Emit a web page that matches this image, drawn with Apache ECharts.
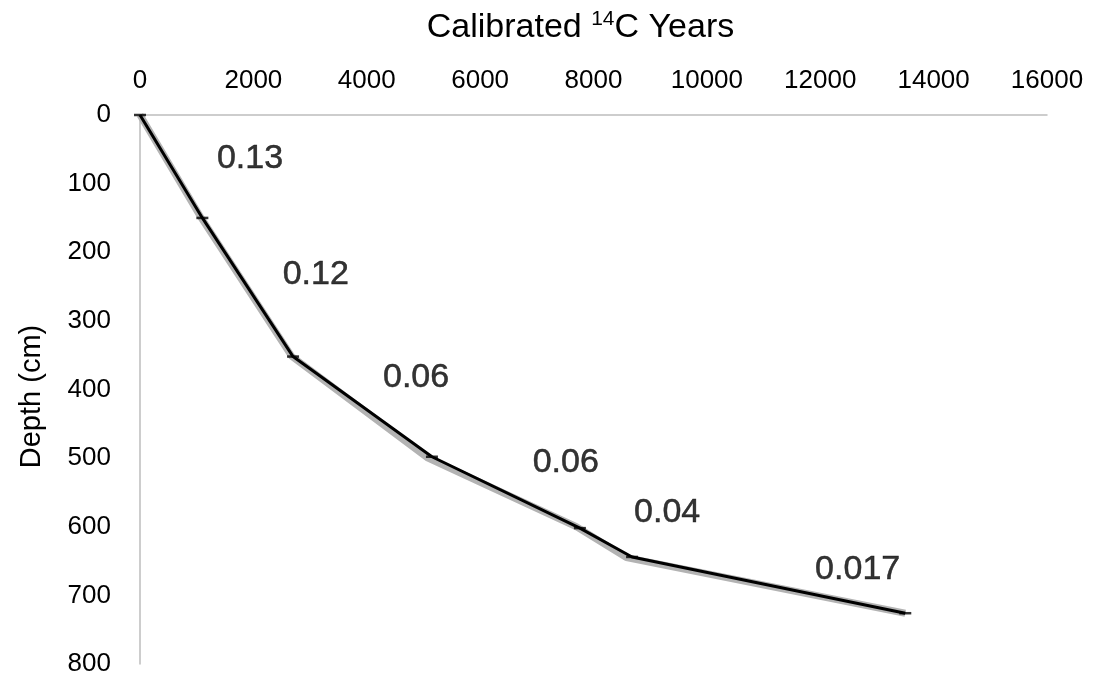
<!DOCTYPE html>
<html>
  <head>
    <meta charset="UTF-8">
    <title>Age-depth</title>
    <script src="https://cdn.jsdelivr.net/npm/echarts@6/dist/echarts.min.js"></script>
    <style>
    * {
      margin: 0;
      padding: 0;
    }
    body { background: #fff; }
    </style>
  </head>
  <body>
    <div id="main" style="width: 1094px;height: 681px"></div>
    <script>
// age model points (years, depth cm)
var ages = [0, 1100, 2700, 5150, 7760, 8680, 13500]
var depths = [0, 150, 352, 498, 602, 644, 726]
// grey envelope behind the line
var envAges = [0, 1080, 2680, 5080, 7700, 8580, 13500]
var envDepths = [0, 150, 352, 500, 600, 645, 726]
// accumulation rate labels
var rateText = ['0.13', '0.12', '0.06', '0.06', '0.04', '0.017']
var rateAges = [1940, 3100, 4870, 7510, 9300, 12660]
var rateDepths = [63, 233, 382, 506, 579, 663]

var font = 'Liberation Sans, Arial, Helvetica, sans-serif'
var chart = echarts.init(document.getElementById('main'))

var pts = ages.map((a, i) => [a, depths[i]])
var env = envAges.map((a, i) => [a, envDepths[i]])
var labels = rateText.map((t, i) => ({ value: [rateAges[i], rateDepths[i]], name: t }))

chart.setOption({
  backgroundColor: '#fff',
  animation: false,
  grid: { left: 140, top: 115, right: 47, bottom: 17, outerBoundsMode: 'none', containLabel: false },
  xAxis: {
    type: 'value',
    position: 'top',
    min: 0, max: 16000, interval: 2000,
    name: '{a|Calibrated }{s|14}{a|C Years}',
    nameLocation: 'middle',
    nameGap: 68,
    nameTextStyle: {
      padding: [0, 26, 0, 0],
      rich: {
        a: { fontFamily: font, fontSize: 34, color: '#000', lineHeight: 38 },
        s: { fontFamily: font, fontSize: 21, color: '#000', lineHeight: 21, verticalAlign: 'top' }
      }
    },
    axisLine: { lineStyle: { color: '#bdbdbd', width: 1.5 } },
    axisTick: { show: false },
    splitLine: { show: false },
    axisLabel: {
      fontFamily: font, fontSize: 26, color: '#000', margin: 21,
      formatter: v => String(v)
    }
  },
  yAxis: {
    type: 'value',
    inverse: true,
    min: 0, max: 800, interval: 100,
    name: 'Depth (cm)',
    nameLocation: 'middle',
    nameGap: 94,
    nameTextStyle: { fontFamily: font, fontSize: 29, color: '#000', padding: [0, 14, 0, 0] },
    axisLine: { show: true, lineStyle: { color: '#bdbdbd', width: 1.5 } },
    axisTick: { show: false },
    splitLine: { show: false },
    axisLabel: {
      fontFamily: font, fontSize: 26, color: '#000', margin: 29,
      formatter: v => String(v)
    }
  },
  series: [{
    type: 'line',
    data: env,
    symbol: 'none',
    lineStyle: { color: '#b3b3b3', width: 7 },
    z: 1
  }, {
    type: 'line',
    data: pts,
    symbol: 'none',
    lineStyle: { color: '#000', width: 3 },
    z: 2
  }, {
    type: 'scatter',
    data: pts,
    symbol: 'rect',
    symbolSize: [12, 2.5],
    itemStyle: { color: '#000' },
    z: 3
  }, {
    type: 'scatter',
    data: labels,
    symbolSize: 0,
    label: {
      show: true,
      position: 'inside',
      formatter: p => p.name,
      fontFamily: font,
      fontSize: 34,
      color: '#000',
      textBorderColor: '#000',
      textBorderWidth: 0.5
    },
    z: 4
  }]
})
    </script>
  </body>
</html>
